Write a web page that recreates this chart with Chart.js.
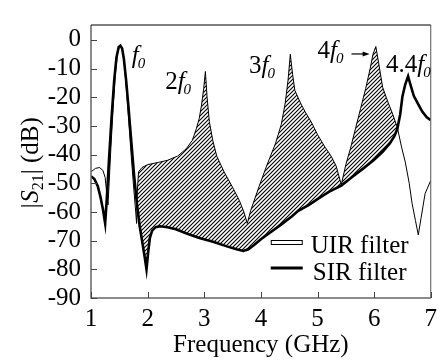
<!DOCTYPE html>
<html>
<head>
<meta charset="utf-8">
<script src="https://cdn.jsdelivr.net/npm/chart.js@4/dist/chart.umd.min.js"></script>
<style>
  html, body { margin: 0; padding: 0; background: #fff; }
  #wrap { width: 443px; height: 364px; }
</style>
</head>
<body>
<div id="wrap"><canvas id="chart" width="443" height="364"></canvas></div>
<script>
// UIR filter (thin line)
const uirFreq = [1.00, 1.08, 1.15, 1.21, 1.25, 1.28, 1.30, 1.32, 1.35, 1.39, 1.43, 1.47, 1.50, 1.53, 1.56, 1.60, 1.64, 1.68, 1.72, 1.76, 1.79, 1.805, 1.82, 1.84,
  1.90, 2.00, 2.19, 2.35, 2.53, 2.68, 2.79, 2.86, 2.91, 2.95, 2.99, 3.02, 3.05, 3.09, 3.15, 3.22, 3.35, 3.50, 3.62, 3.70, 3.76, 3.82, 3.97,
  4.10, 4.26, 4.36, 4.43, 4.48, 4.52, 4.56, 4.60, 4.70, 4.78, 4.90, 5.00, 5.12, 5.24, 5.33, 5.42, 5.50, 5.58, 5.67, 5.76, 5.85, 5.93, 5.98,
  6.03, 6.08, 6.15, 6.25, 6.33, 6.41, 6.48, 6.55, 6.62, 6.67, 6.73, 6.78, 6.83, 6.90, 7.00];
const uirDb = [-46, -44.8, -44.5, -45.5, -48, -54, -57.6, -50, -38, -24, -12, -4.5, -2.2, -2.2, -4, -11, -21, -32, -43, -53, -60, -64, -52, -46,
  -44.5, -43.5, -42.7, -42, -40.5, -38, -35, -31, -27.5, -23, -17, -11, -20, -28.5, -35, -40.5, -46, -51.4, -56, -60, -64, -59.5, -51,
  -44, -36, -29.5, -22, -14, -5, -12, -17.6, -22, -25, -29, -33, -37, -40.5, -44, -50.5, -43.5, -38, -31, -24, -17, -10, -5,
  -2.3, -8, -16.5, -22, -26, -30.5, -37, -42.6, -50, -57, -63, -68, -62, -53.6, -49];

// SIR filter (thick line)
const sirFreq = [1.00, 1.06, 1.12, 1.17, 1.21, 1.25, 1.28, 1.32, 1.36, 1.41, 1.45, 1.49, 1.52, 1.55, 1.58, 1.62, 1.66, 1.71, 1.76, 1.81, 1.86, 1.91, 1.95, 1.98,
  2.01, 2.04, 2.08, 2.14, 2.22, 2.35, 2.50, 2.70, 2.90, 3.17, 3.40, 3.57, 3.69, 3.78, 3.88, 4.00, 4.14, 4.35, 4.55, 4.66, 4.85, 5.00, 5.20, 5.42,
  5.60, 5.81, 6.00, 6.15, 6.28, 6.36, 6.41, 6.46, 6.50, 6.55, 6.60, 6.64, 6.70, 6.78, 6.85, 6.93, 7.00];
const sirDb = [-47.5, -48.5, -51, -55, -59, -64, -55, -41, -28, -14, -6, -2.5, -2, -3, -6.5, -14, -23, -35, -47, -57, -65, -71, -76, -80,
  -74, -69, -66.5, -65.3, -65, -65.3, -66, -67.6, -69, -70.5, -72, -73, -73.6, -73, -71.5, -69.5, -67.5, -64.5, -61.5, -59.6, -57.5, -55.5, -53, -50.8,
  -48, -44.8, -41.8, -39, -36, -33.5, -31, -26, -19.7, -15.5, -12.7, -15.5, -19.5, -22.5, -25, -27, -28];

const seriesNames = ['UIR filter', 'SIR filter'];
const xTicks = [1, 2, 3, 4, 5, 6, 7];
const yTicks = [-90, -80, -70, -60, -50, -40, -30, -20, -10, 0];

// harmonic labels: [prefix, freq, dB] (left/baseline of the text)
const harmonicLabels = [['', 1.72, -8.2], ['2', 2.31, -17], ['3', 3.79, -11.5], ['4', 5.0, -6.2], ['4.4', 6.21, -11.1]];

const SERIF = "'Liberation Serif', 'Times New Roman', Times, serif";

function toPoints(xs, ys) {
  return xs.map((v, i) => ({ x: v, y: ys[i] }));
}

const hatchPoints = toPoints(uirFreq, uirDb).filter(p => p.x >= 1.805 && p.x <= 6.41);

function makeHatch(ctx) {
  const c = document.createElement('canvas');
  c.width = 4; c.height = 4;
  const g = c.getContext('2d');
  g.strokeStyle = '#000';
  g.lineWidth = 1.1;
  g.beginPath();
  g.moveTo(0, 4); g.lineTo(4, 0);
  g.moveTo(-1, 1); g.lineTo(1, -1);
  g.moveTo(3, 5); g.lineTo(5, 3);
  g.stroke();
  return ctx.createPattern(c, 'repeat');
}

function drawHarmonic(ctx, prefix, x, base) {
  ctx.fillStyle = '#000';
  ctx.textBaseline = 'alphabetic';
  ctx.textAlign = 'left';
  ctx.font = '25px ' + SERIF;
  ctx.fillText(prefix, x, base);
  x += ctx.measureText(prefix).width;
  ctx.font = 'italic 25px ' + SERIF;
  ctx.fillText('f', x, base);
  x += ctx.measureText('f').width - 1;
  ctx.font = 'italic 15px ' + SERIF;
  ctx.fillText('0', x, base + 5);
}

const overlay = {
  id: 'overlay',
  afterDraw(chart) {
    const { ctx, chartArea: a, scales: { x, y } } = chart;
    ctx.save();

    // frame
    ctx.lineWidth = 1.5;
    ctx.strokeStyle = '#666';
    ctx.beginPath();
    ctx.moveTo(a.left, a.top); ctx.lineTo(a.left, a.bottom); ctx.lineTo(a.right, a.bottom);
    ctx.stroke();
    ctx.lineWidth = 1;
    ctx.strokeStyle = '#555';
    ctx.beginPath();
    ctx.moveTo(a.right, a.bottom); ctx.lineTo(a.right, a.top);
    ctx.stroke();
    ctx.strokeStyle = '#000';
    ctx.beginPath();
    ctx.moveTo(a.left, a.top); ctx.lineTo(a.right, a.top);
    ctx.stroke();

    // inward ticks
    ctx.strokeStyle = '#444';
    ctx.lineWidth = 1;
    ctx.beginPath();
    xTicks.forEach(v => {
      const px = Math.round(x.getPixelForValue(v)) + 0.5;
      ctx.moveTo(px, a.bottom); ctx.lineTo(px, a.bottom - 6);
    });
    yTicks.forEach(v => {
      const py = Math.round(y.getPixelForValue(v)) + 0.5;
      ctx.moveTo(a.left, py); ctx.lineTo(a.left + 6, py);
    });
    ctx.stroke();

    // harmonic labels
    harmonicLabels.forEach(([p, f, d]) => {
      drawHarmonic(ctx, p, x.getPixelForValue(f), y.getPixelForValue(d));
    });

    // arrow 4f0 -> peak
    const ax0 = x.getPixelForValue(5.6), ax1 = x.getPixelForValue(5.92), ay = y.getPixelForValue(-4.9);
    ctx.strokeStyle = '#000';
    ctx.lineWidth = 1.2;
    ctx.beginPath();
    ctx.moveTo(ax0, ay); ctx.lineTo(ax1 - 5, ay);
    ctx.stroke();
    ctx.fillStyle = '#000';
    ctx.beginPath();
    ctx.moveTo(ax1, ay); ctx.lineTo(ax1 - 7, ay - 2.5); ctx.lineTo(ax1 - 7, ay + 2.5);
    ctx.closePath();
    ctx.fill();

    // legend
    const lx = a.right - 160, tx = a.right - 120;
    const r1 = a.bottom - 55, r2 = a.bottom - 30;
    ctx.fillStyle = '#fff';
    ctx.fillRect(lx, r1 - 2, 32, 4);
    ctx.strokeStyle = '#000';
    ctx.lineWidth = 1;
    ctx.strokeRect(lx + 0.5, r1 - 2.5, 31, 4);
    ctx.lineWidth = 3;
    ctx.beginPath();
    ctx.moveTo(lx, r2); ctx.lineTo(lx + 32, r2);
    ctx.stroke();
    ctx.fillStyle = '#000';
    ctx.font = '25px ' + SERIF;
    ctx.textBaseline = 'alphabetic';
    ctx.fillText(seriesNames[0], tx, r1 + 10);
    ctx.fillText(seriesNames[1], tx + 2, r2 + 12);

    // y title |S21| (dB)
    const parts = [
      ['|', 'italic 25px ' + SERIF, 0],
      ['S', 'italic 25px ' + SERIF, 0],
      ['21', '16px ' + SERIF, 5],
      ['|', '25px ' + SERIF, 0],
      [' (dB)', '25px ' + SERIF, 0]
    ];
    let total = 0;
    parts.forEach(([t, f]) => { ctx.font = f; total += ctx.measureText(t).width; });
    ctx.translate(38, (a.top + a.bottom) / 2 + 2);
    ctx.rotate(-Math.PI / 2);
    let cx = -total / 2;
    parts.forEach(([t, f, dy]) => {
      ctx.font = f;
      ctx.fillText(t, cx, dy);
      cx += ctx.measureText(t).width;
    });
    ctx.restore();
  }
};

function build() {
  const ctx = document.getElementById('chart').getContext('2d');
  new Chart(ctx, {
    type: 'line',
    data: {
      datasets: [
        {
          label: seriesNames[0],
          data: toPoints(uirFreq, uirDb),
          borderColor: '#000',
          borderWidth: 1,
          pointRadius: 0,
          fill: false,
          tension: 0
        },
        {
          label: seriesNames[1],
          data: toPoints(sirFreq, sirDb),
          borderColor: '#000',
          borderWidth: 2.6,
          pointRadius: 0,
          fill: false,
          tension: 0
        },
        {
          label: 'hatch',
          data: hatchPoints,
          borderColor: 'rgba(0,0,0,0)',
          borderWidth: 0,
          pointRadius: 0,
          tension: 0,
          fill: { target: 1, above: makeHatch(ctx), below: 'rgba(0,0,0,0)' }
        }
      ]
    },
    options: {
      responsive: false,
      animation: false,
      devicePixelRatio: 1,
      layout: { padding: { top: 7, right: 3, bottom: 4, left: 0 } },
      plugins: {
        legend: { display: false },
        tooltip: { enabled: false }
      },
      scales: {
        x: {
          type: 'linear',
          min: 1,
          max: 7,
          grid: { display: false, drawTicks: false },
          border: { display: false },
          afterBuildTicks: s => { s.ticks = xTicks.map(v => ({ value: v })); },
          afterFit: s => { s.height = 62; },
          ticks: { color: '#000', padding: 6, autoSkip: false, maxRotation: 0, font: { family: SERIF, size: 25 } },
          title: { display: true, text: 'Frequency (GHz)', color: '#000', padding: 0, font: { family: SERIF, size: 25 } }
        },
        y: {
          min: -90,
          max: 5.2,
          grid: { display: false, drawTicks: false },
          border: { display: false },
          afterBuildTicks: s => { s.ticks = yTicks.map(v => ({ value: v })); },
          afterFit: s => { s.width = 91; },
          ticks: { color: '#000', padding: 10, autoSkip: false, font: { family: SERIF, size: 25 } }
        }
      }
    },
    plugins: [overlay]
  });
}

if (document.fonts && document.fonts.load) {
  Promise.all([
    document.fonts.load("25px 'Liberation Serif'"),
    document.fonts.load("italic 25px 'Liberation Serif'")
  ]).then(build, build);
} else {
  build();
}
</script>
</body>
</html>
